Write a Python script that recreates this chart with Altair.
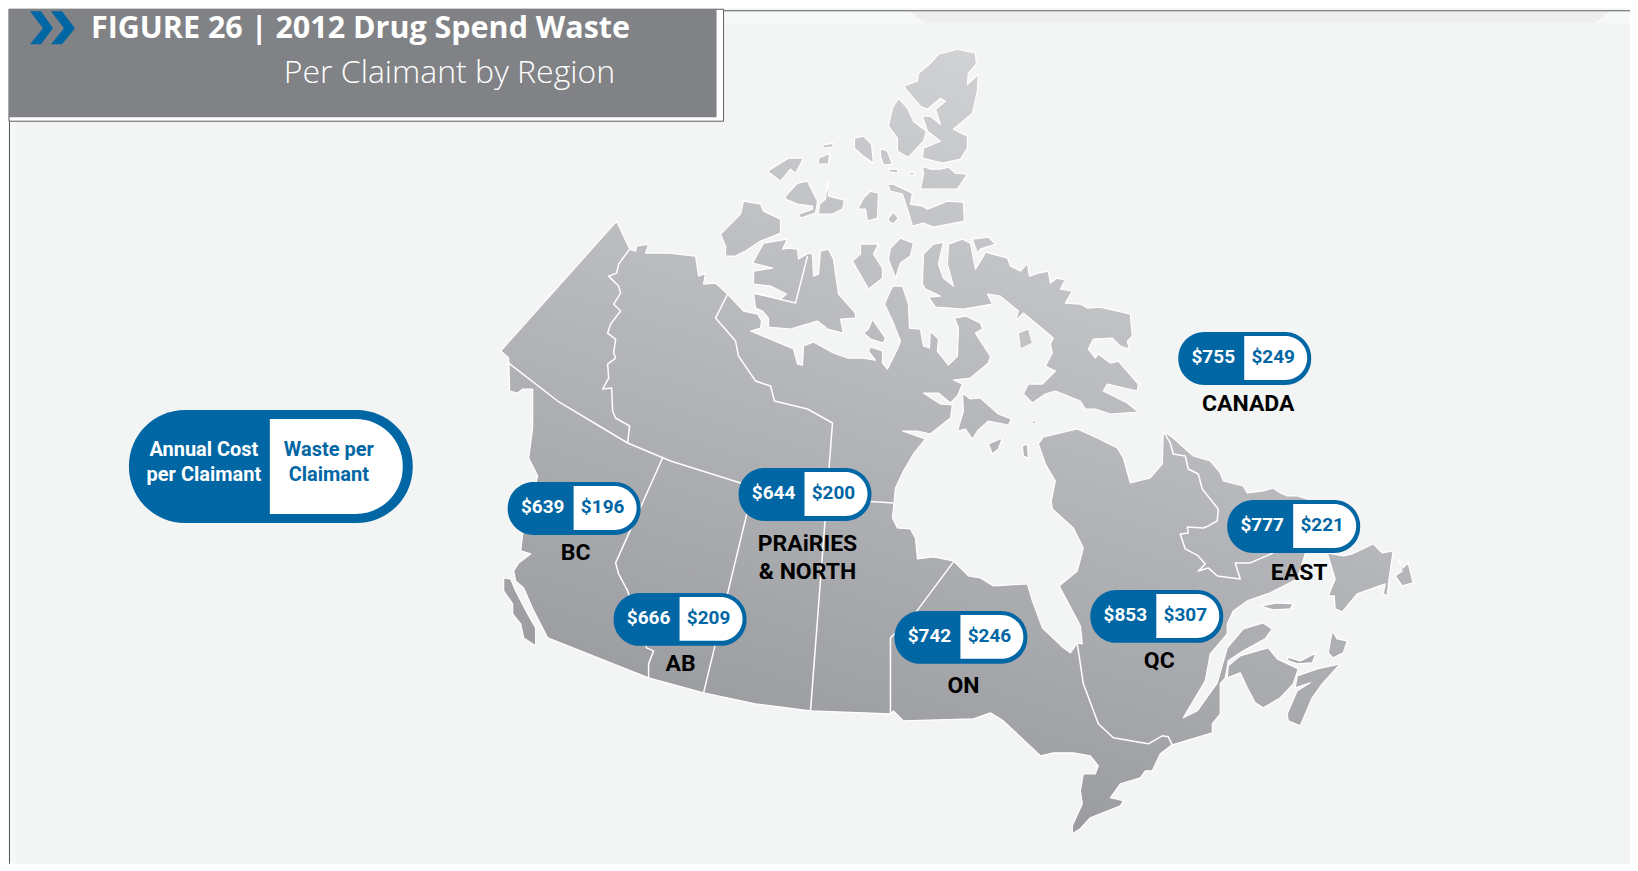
import altair as alt
import pandas as pd

# ---------- table values ----------
regions = ["BC", "AB", "PRAiRIES & NORTH", "ON", "QC", "EAST", "CANADA"]
annual_cost = ["$639", "$666", "$644", "$742", "$853", "$777", "$755"]
waste = ["$196", "$209", "$200", "$246", "$307", "$221", "$249"]
pill_left = [507, 613, 738, 894, 1090, 1227, 1178]
pill_top = [481, 592, 467, 610, 589, 499, 331]

label_text = ["BC", "AB", "PRAiRIES", "& NORTH", "ON", "QC", "EAST", "CANADA"]
label_x = [575, 680, 807, 807, 963, 1159, 1299, 1248]
label_y = [552, 663, 543, 571, 685, 660, 572, 403]

# ---------- map outlines in image coordinates ----------
mainland = [(616,220),(629,248),(635,250),(636,245),(648,243),(645,252),(668,252),(695,255),(698,275),(705,272),(703,283),(715,282),(727,293),(743,310),(757,313),(761,320),(760,327),(750,330),(767,337),(793,348),(797,363),(802,364),(803,345),(813,341),(833,352),(847,357),(863,357),(875,359),(868,350),(870,346),(882,350),(882,362),(887,368),(897,348),(900,340),(892,320),(884,303),(892,285),(902,285),(908,303),(909,327),(920,328),(923,345),(929,347),(930,330),(938,338),(937,350),(948,364),(957,355),(958,327),(954,317),(965,315),(980,322),(982,328),(975,332),(990,355),(988,362),(970,377),(953,379),(962,383),(957,395),(950,402),(938,392),(923,392),(940,403),(952,404),(950,417),(940,425),(930,433),(917,430),(902,430),(925,438),(913,453),(903,470),(895,487),(892,517),(897,527),(910,528),(915,537),(917,558),(933,556),(953,560),(968,575),(980,577),(993,585),(1027,583),(1032,600),(1042,627),(1063,647),(1070,652),(1077,642),(1082,643),(1080,625),(1063,593),(1059,585),(1077,570),(1083,547),(1073,527),(1052,508),(1051,500),(1055,480),(1045,463),(1038,443),(1043,436),(1077,428),(1097,437),(1117,447),(1123,457),(1130,482),(1150,477),(1162,463),(1163,430),(1173,437),(1193,455),(1210,460),(1220,472),(1223,480),(1243,485),(1247,492),(1263,490),(1273,487),(1280,492),(1287,495),(1297,495),(1307,498),(1315,525),(1305,553),(1297,578),(1270,592),(1247,600),(1233,610),(1227,623),(1227,633),(1210,653),(1205,680),(1183,717),(1197,710),(1217,682),(1227,647),(1243,628),(1263,622),(1272,628),(1265,638),(1243,650),(1228,660),(1225,677),(1220,683),(1220,713),(1212,723),(1212,732),(1172,744),(1160,753),(1152,770),(1145,770),(1140,777),(1120,783),(1110,797),(1123,800),(1120,805),(1090,817),(1080,828),(1072,833),(1072,825),(1082,803),(1080,790),(1083,773),(1095,773),(1098,765),(1090,755),(1073,752),(1053,752),(1040,755),(1003,720),(990,712),(973,718),(903,720),(893,710),(890,713),(810,710),(755,703),(703,692),(648,677),(547,637),(533,610),(523,587),(515,580),(513,570),(518,562),(530,553),(520,550),(522,533),(537,475),(528,457),(532,427),(532,410),(532,388),(522,388),(517,392),(509,390),(508,357),(500,350)]
vancouver_island = [(503,577),(510,578),(515,590),(527,613),(535,627),(535,645),(523,637),(520,623),(512,613),(512,603),(503,590)]
ellesmere = [(938,53),(957,48),(975,52),(976,63),(968,72),(967,83),(978,73),(977,90),(972,112),(953,128),(967,135),(967,147),(960,158),(942,162),(922,157),(923,147),(940,140),(927,130),(922,115),(930,115),(940,123),(935,108),(945,100),(940,97),(927,108),(920,105),(907,90),(903,85),(917,80),(918,72),(930,62)]
axel_heiberg = [(898,97),(907,107),(913,120),(926,130),(923,140),(908,156),(897,150),(897,137),(888,125),(892,107)]
ellesmere_south = [(922,165),(930,168),(940,168),(948,166),(955,172),(967,173),(957,188),(920,188),(923,173)]
amund = [(854,137),(863,135),(871,143),(873,162),(863,155),(854,147)]
ellef = [(880,147),(887,150),(892,163),(883,164),(880,155)]
small_a = [(887,168),(897,168),(898,172),(890,171)]
small_b = [(908,172),(913,171),(914,174),(909,174)]
devon = [(887,183),(893,183),(912,192),(910,203),(922,205),(927,208),(947,200),(963,201),(964,220),(933,226),(923,222),(912,225),(907,208),(902,193),(890,190)]
cornwallis = [(870,190),(878,192),(877,217),(867,220),(865,208),(857,208),(863,197)]
round_isle = [(888,217),(893,211),(898,217),(893,223),(888,220)]
melville_w = [(785,195),(797,182),(807,180),(817,200),(815,212),(800,217),(798,213),(812,208),(812,205),(797,203),(785,198)]
melville_e = [(827,180),(828,195),(844,199),(842,208),(832,213),(818,213),(819,203),(825,198)]
patrick = [(767,170),(788,157),(803,157),(795,172),(790,168),(780,180)]
small_c = [(822,144),(833,142),(832,146),(823,147)]
small_d = [(818,157),(829,152),(828,163),(818,163)]
banks = [(743,200),(760,203),(763,210),(780,218),(780,232),(760,240),(745,250),(735,255),(725,255),(725,245),(720,233),(740,213)]
victoria = [(763,242),(787,238),(782,248),(788,247),(797,248),(798,258),(808,252),(812,253),(813,275),(818,273),(820,250),(828,248),(833,258),(838,293),(855,312),(855,317),(840,318),(843,332),(827,328),(817,320),(790,328),(768,326),(768,317),(762,310),(755,307),(753,292),(780,298),(786,293),(770,285),(753,283),(753,270),(772,267),(752,262)]
prince_wales = [(860,243),(878,243),(873,253),(882,267),(882,277),(868,288),(852,260),(860,253)]
somerset = [(900,237),(913,242),(910,255),(900,262),(895,277),(888,258),(890,247)]
king_william = [(872,318),(885,337),(883,342),(870,338),(863,332),(868,328)]
southampton = [(962,392),(970,398),(980,397),(998,413),(1011,418),(1008,424),(988,420),(977,430),(972,438),(965,428),(957,430),(963,410)]
coats = [(988,443),(1002,437),(998,448),(992,453)]
mansel = [(1022,445),(1027,443),(1028,457),(1023,455)]
small_e = [(1032,419),(1036,421),(1035,423),(1032,422)]
bylot = [(972,238),(988,236),(995,243),(980,248),(977,252)]
baffin = [(983,255),(985,251),(1007,257),(1010,265),(1020,270),(1027,262),(1029,275),(1038,272),(1048,270),(1050,282),(1057,277),(1065,279),(1060,288),(1072,290),(1065,302),(1080,303),(1087,307),(1100,306),(1113,309),(1130,313),(1132,335),(1127,340),(1129,348),(1120,345),(1112,337),(1093,338),(1088,348),(1095,357),(1098,353),(1110,362),(1118,360),(1138,383),(1137,390),(1107,383),(1103,390),(1127,402),(1138,411),(1110,413),(1095,408),(1085,408),(1080,400),(1055,390),(1045,393),(1032,402),(1023,393),(1028,383),(1042,383),(1055,370),(1045,365),(1052,352),(1050,343),(1053,337),(1023,312),(1015,320),(1018,310),(1000,295),(987,293),(992,303),(963,308),(935,306),(928,296),(940,295),(925,288),(922,283),(923,253),(933,243),(943,241),(938,263),(943,277),(953,285),(947,263),(948,243),(962,238),(970,242),(975,268)]
prince_charles = [(1018,332),(1028,328),(1032,342),(1020,348)]
newfoundland = [(1327,552),(1343,555),(1352,553),(1373,543),(1382,552),(1393,550),(1389,577),(1387,595),(1383,593),(1385,583),(1357,593),(1342,611),(1335,608),(1334,595),(1328,595),(1335,578)]
avalon = [(1398,558),(1403,567),(1408,562),(1413,582),(1402,585),(1395,575),(1402,570)]
anticosti = [(1260,605),(1277,602),(1293,603),(1290,608),(1273,609)]
cape_breton = [(1332,630),(1337,638),(1347,640),(1343,652),(1333,657),(1328,652)]
pei = [(1287,656),(1300,660),(1316,652),(1312,662),(1297,663),(1288,660)]
nova_scotia = [(1340,663),(1322,683),(1312,697),(1300,725),(1288,720),(1287,713),(1297,690),(1310,682),(1295,687),(1297,675),(1317,668)]
new_brunswick = [(1227,677),(1228,665),(1240,655),(1257,650),(1268,647),(1277,658),(1298,668),(1293,683),(1280,697),(1263,707),(1255,702),(1247,687),(1240,672)]

land_parts = [mainland, vancouver_island, ellesmere, axel_heiberg, ellesmere_south, amund, ellef, small_a, small_b,
              devon, cornwallis, round_isle, melville_w, melville_e, patrick, small_c, small_d, banks, victoria,
              prince_wales, somerset, king_william, southampton, coats, mansel, small_e, bylot, baffin,
              newfoundland, avalon, anticosti, cape_breton, pei, nova_scotia, new_brunswick]
foxe_basin_islands = [prince_charles]

border_yukon = [(629,248),(618,263),(616,272),(608,275),(618,285),(620,292),(613,303),(620,310),(610,323),(607,332),(615,338),(613,352),(615,357),(607,363),(608,377),(602,388),(611,387),(612,410),(615,417),(629,425),(627,442)]
border_60 = [(508,362),(557,400),(627,442),(670,460),(740,482),(830,498),(893,502)]
border_nunavut = [(727,293),(715,317),(735,340),(738,355),(755,380),(770,385),(774,400),(807,408),(832,422),(810,710)]
border_victoria = [(753,292),(795,302),(807,255)]
border_bc_ab = [(662,457),(615,562),(618,573),(627,590),(646,647),(653,650),(648,663),(648,677)]
border_ab_sk = [(753,485),(703,692)]
border_mb_on = [(953,561),(915,612),(890,637),(890,713)]
border_on_qc = [(1077,643),(1083,683),(1098,723),(1113,737),(1148,743),(1162,735),(1168,736),(1172,744)]
border_labrador = [(1163,430),(1170,442),(1173,453),(1185,455),(1188,468),(1198,473),(1202,488),(1218,508),(1217,520),(1208,525),(1203,527),(1187,526),(1188,532),(1180,533),(1185,548),(1198,555),(1205,563),(1198,570),(1208,567),(1217,575),(1240,578),(1235,562),(1250,562),(1273,552)]
border_parts = [border_yukon, border_60, border_nunavut, border_victoria, border_bc_ab, border_ab_sk,
                border_mb_on, border_on_qc, border_labrador]

chevron_a = [(29,10),(40,10),(52,27),(40,43),(29,43),(42,27)]
chevron_b = [(50,10),(61,10),(74,27),(61,43),(50,43),(63,27)]
top_strip = [(909,10),(925,22),(1594,22),(1610,10)]

BLUE = "#0066a4"
W, H = 1622, 855
R = 8 + W
X = alt.Scale(domain=[8, R], nice=False, zero=False)
Y = alt.Scale(domain=[8 + H, 8], nice=False, zero=False)
PROJ = dict(type="identity", scale=1, translate=[-8, -8])


def ring(pts):
    r = [list(p) for p in pts]
    return r + [r[0]]


def polygons(parts):
    return alt.Data(values=[{"type": "Feature", "properties": {},
                             "geometry": {"type": "MultiPolygon", "coordinates": [[ring(p)] for p in parts]}}])


def lines(parts):
    return alt.Data(values=[{"type": "Feature", "properties": {},
                             "geometry": {"type": "MultiLineString", "coordinates": [[list(q) for q in p] for p in parts]}}])


def rect(df, **mark):
    return alt.Chart(df).mark_rect(**mark).encode(
        x=alt.X("x0:Q", scale=X, axis=None), x2="x1:Q",
        y=alt.Y("y0:Q", scale=Y, axis=None), y2="y1:Q")


def box(x0, y0, x1, y1):
    return pd.DataFrame({"x0": [x0], "x1": [x1], "y0": [y0], "y1": [y1]})


def text(df, font="Roboto", **mark):
    return alt.Chart(df).mark_text(baseline="middle", font=font, **mark).encode(
        x=alt.X("x:Q", scale=X, axis=None), y=alt.Y("y:Q", scale=Y, axis=None), text="t:N")


left = pd.Series(pill_left)
top = pd.Series(pill_top)
outer = pd.DataFrame({"x0": left, "x1": left + 133, "y0": top, "y1": top + 53})
inner = pd.DataFrame({"x0": left + 66, "x1": left + 129, "y0": top + 4, "y1": top + 48})
cost_txt = pd.DataFrame({"x": left + 35, "y": top + 25, "t": annual_cost})
waste_txt = pd.DataFrame({"x": left + 95, "y": top + 25, "t": waste})
lab_txt = pd.DataFrame({"x": label_x, "y": label_y, "t": label_text})

legend_cost = pd.DataFrame({"x": [203, 203], "y": [449, 474], "t": ["Annual Cost", "per Claimant"]})
legend_waste = pd.DataFrame({"x": [328, 328], "y": [449, 474], "t": ["Waste per", "Claimant"]})

land_fill = alt.LinearGradient(
    gradient="linear", x1=0.68, y1=0, x2=0.32, y2=1,
    stops=[alt.GradientStop(color="#d4d5d7", offset=0), alt.GradientStop(color="#95969a", offset=1)])

layers = [
    rect(box(15, 22, R, 8 + H), color="#f3f4f4"),
    alt.Chart(polygons([top_strip])).mark_geoshape(fill="#eeeeef", strokeWidth=0).project(**PROJ),
    rect(box(723, 9, R, 10), color="#5a5b5d"),
    rect(box(8, 120, 9, 8 + H), color="#5a5b5d"),
    alt.Chart(polygons(land_parts)).mark_geoshape(fill=land_fill, stroke="#ffffff", strokeWidth=1.2, strokeJoin="round").project(**PROJ),
    alt.Chart(polygons(foxe_basin_islands)).mark_geoshape(fill="#c2c3c5", stroke="#ffffff", strokeWidth=1).project(**PROJ),
    alt.Chart(lines(border_parts)).mark_geoshape(filled=False, stroke="#ffffff", strokeWidth=1.5, strokeJoin="round").project(**PROJ),
    rect(outer, color=BLUE, cornerRadius=26),
    rect(inner, color="#ffffff", cornerRadiusTopRight=22, cornerRadiusBottomRight=22),
    text(cost_txt, color="#ffffff", fontSize=19, fontWeight="bold"),
    text(waste_txt, color=BLUE, fontSize=19, fontWeight="bold"),
    text(lab_txt, color="#000000", fontSize=23, fontWeight="bold"),
    rect(box(128, 409, 412, 522), color=BLUE, cornerRadius=56),
    rect(box(269, 418, 402, 513), color="#ffffff", cornerRadiusTopRight=47, cornerRadiusBottomRight=47),
    text(legend_cost, color="#ffffff", fontSize=20, fontWeight="bold"),
    text(legend_waste, color=BLUE, fontSize=20, fontWeight="bold"),
    rect(box(8, 8, 723, 120), color="#ffffff", stroke="#5a5b5d", strokeWidth=1),
    rect(box(8, 8, 716, 116), color="#808285"),
    alt.Chart(polygons([chevron_a, chevron_b])).mark_geoshape(fill=BLUE, strokeWidth=0).project(**PROJ),
    text(pd.DataFrame({"x": [90], "y": [28], "t": ["FIGURE 26 | 2012 Drug Spend Waste"]}),
         font="Open Sans", color="#ffffff", fontSize=30.5, fontWeight="bold", align="left"),
    text(pd.DataFrame({"x": [283], "y": [72], "t": ["Per Claimant by Region"]}),
         font="Open Sans", color="#ffffff", fontSize=32, fontWeight=300, align="left"),
]

chart = alt.layer(*layers).properties(
    width=W, height=H, padding=0, background="#f7f8f8", view=alt.ViewConfig(stroke=None)
)

chart.save("out.html", embed_options={"renderer": "svg", "actions": False})
